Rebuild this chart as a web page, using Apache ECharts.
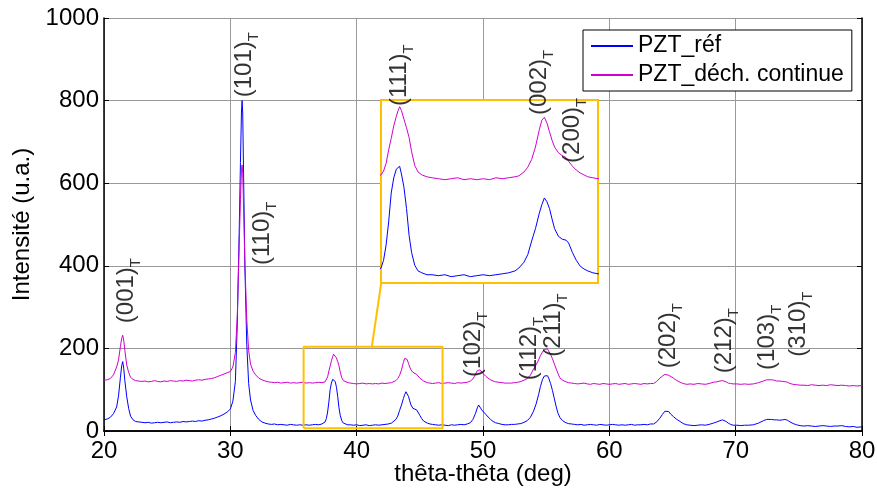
<!DOCTYPE html>
<html><head><meta charset="utf-8">
<script src="https://cdn.jsdelivr.net/npm/echarts@6/dist/echarts.min.js"></script>
<style>html,body{margin:0;padding:0;background:#fff}#c{width:877px;height:489px}</style>
</head><body><div id="c"></div>
<script>
// 2-theta positions (deg)
const twoTheta = [
 20,20.25,20.5,20.75,21,21.15,21.3,21.4,21.48,21.56,21.65,21.8,21.95,22.1,22.3,22.5,22.75,23,
 23.25,23.5,23.75,24,24.25,24.5,24.75,25,25.25,25.5,25.75,26,26.25,26.5,26.75,27,27.25,27.5,27.75,28,28.25,28.5,28.75,29,29.25,29.5,29.75,
 30,30.2,30.4,30.55,30.7,30.8,30.88,30.93,30.98,31.05,31.15,31.3,31.45,31.6,31.8,32,32.25,32.5,32.75,33,
 33.25,33.5,33.75,34,34.25,34.5,34.75,35,35.25,35.5,35.75,36,36.25,36.5,36.75,37,37.25,
 37.5,37.6,37.7,37.8,37.9,38,38.1,38.17,38.23,38.3,38.4,38.5,38.6,38.7,38.82,38.95,39.1,39.3,
 39.5,39.75,40,40.25,40.5,40.75,41,41.25,41.5,41.75,42,42.25,42.5,
 42.75,42.9,43.1,43.25,43.4,43.55,43.7,43.8,43.9,44,44.1,44.2,44.3,44.45,44.6,44.75,44.85,45,45.15,45.3,45.45,45.6,45.8,46,
 46.25,46.5,46.75,47,47.25,47.5,47.75,48,48.25,48.5,48.75,
 49,49.2,49.4,49.55,49.65,49.75,49.9,50.05,50.2,50.4,50.6,50.8,51,51.25,51.5,51.75,52,
 52.25,52.5,52.75,53,53.25,53.5,53.75,54,54.2,54.4,54.55,54.7,54.85,55,55.1,55.2,55.35,55.5,55.65,55.8,55.95,56.1,56.3,56.5,56.75,57,
 57.25,57.5,57.75,58,58.25,58.5,58.75,59,59.25,59.5,59.75,60,60.25,60.5,60.75,61,61.25,61.5,61.75,62,62.25,62.5,62.75,63,63.25,
 63.5,63.75,64,64.2,64.4,64.55,64.7,64.85,65.07,65.3,65.6,65.85,66.13,
 66.4,66.7,67,67.3,67.6,67.9,
 68.23,68.5,68.76,68.95,69.08,69.25,69.42,69.6,69.8,70.1,
 70.4,70.7,71,
 71.4,71.8,72.2,72.45,72.6,72.85,73.05,73.25,73.5,73.7,73.9,74.1,74.3,74.55,74.83,75.1,
 75.4,75.7,76,76.3,76.6,76.9,77.2,77.5,77.8,78.1,78.4,78.7,79,79.3,79.6,80
];
// PZT_réf intensities
const pztRef = [
 27,29,33,42,58,85,130,158,168,152,122,83,55,36,27,23,22,21,
 20,21,19,20,21,20,21,22,20,21,22,21,23,22,23,24,23,25,24,26,27,29,31,34,37,41,46,
 53,72,120,260,480,650,770,800,770,620,400,210,115,75,50,38,28,22,19,17,
 16,17,15,16,15,14,16,15,14,15,14,15,14,15,16,15,17,
 22,30,46,70,100,116,125,127,128,120,106,84,56,38,25,19,17,15,
 15,14,15,13,14,15,13,14,15,14,15,16,17,
 19,22,28,36,50,63,79,88,95,91,84,73,63,55,52,51,48,38,30,24,21,19,17,16,
 15,14,15,14,13,15,14,15,16,15,17,
 20,28,42,56,63,59,51,46,41,34,28,23,20,18,16,15,15,
 16,16,17,18,21,25,33,48,65,88,108,124,133,136,134,128,115,98,78,58,42,32,25,21,18,17,
 16,15,16,14,15,16,15,14,16,15,14,15,16,15,14,15,14,15,16,14,15,15,16,15,17,
 17,22,31,40,48,51,47,41,35,29,23,18,15,
 14,13,14,15,14,16,
 19,22,25,27,28,23,19,16,14,14,
 13,14,14,
 15,19,25,28,29,28,27,27,26,27,28,26,22,18,15,13,
 12,13,12,11,12,13,12,11,12,12,13,11,10,11,9,10
];
// PZT_déch. continue intensities
const pztDech = [
 123,124,127,136,155,172,205,224,232,220,195,160,142,130,125,122,121,120,
 121,119,120,122,120,119,121,120,122,121,120,122,121,123,122,121,123,124,123,125,126,127,129,132,135,138,141,
 144,155,190,280,450,560,630,644,625,540,410,270,195,162,145,136,128,124,121,119,
 118,117,118,116,117,118,116,117,116,117,118,116,117,116,117,118,117,
 119,123,131,145,157,170,180,186,190,186,177,168,158,143,129,122,119,117,
 116,115,114,115,116,114,115,114,115,114,116,115,116,
 117,118,122,127,135,148,166,176,179,173,164,155,148,142,139,137,133,128,124,121,119,117,116,115,
 116,117,115,116,117,116,115,117,116,117,118,
 121,126,137,146,150,148,143,138,133,128,124,121,119,118,117,116,116,
 116,117,118,120,123,127,135,150,160,172,183,191,197,200,199,195,185,175,162,150,138,128,123,120,117,116,
 115,114,115,116,114,113,115,114,113,115,114,113,114,115,113,114,115,113,114,115,114,113,115,114,115,
 115,120,128,133,137,138,135,132,128,123,118,115,113,
 114,113,115,114,113,115,
 118,119,121,122,122,119,116,115,114,114,
 113,114,113,
 114,117,121,124,125,124,123,121,121,120,119.5,118,115,113,112,111,
 111,110,112,111,110,111,110,112,111,110,111,110,109,110,109,110
];
const seriesNames = ['PZT_réf', 'PZT_déch. continue'];
const xTicks = {min: 20, max: 80, step: 10};
const yTicks = {min: 0, max: 1000, step: 200};
// peak annotations: label, 2θ of label, intensity at label start
const peakNames = ['(001)','(101)','(110)','(111)','(002)','(200)','(102)','(112)','(211)','(202)','(212)','(103)','(310)'];
const peakLabelX = [21.74, 31.08, 32.5, 43.4, 54.5, 57.1, 49.2, 53.7, 55.6, 64.65, 69.1, 72.5, 75.0];
const peakLabelY = [261, 808, 402, 787, 765, 649, 131, 123, 180, 152, 140, 148, 180];
// zoomed region (main axes) and inset range
const zoomX = [35.8, 46.8];
const zoomY = [6.5, 204];
const insetX = [37.5, 46.0];
const insetY = [6.4, 197];
const connector = [[41.2, 204], [41.95, 360]];

const zip = (xs, ys) => xs.map((x, i) => [x, ys[i]]);
const FONT = "'Liberation Sans', Arial, sans-serif";
const BLUE = '#0000ff', MAG = '#d000d0', ORANGE = '#FFC000';

const chart = echarts.init(document.getElementById('c'), null, {renderer: 'canvas'});
const tickStyle = {show: true, inside: true, length: 5, lineStyle: {color: '#000', width: 1}};
const lineAx = {show: true, lineStyle: {color: '#000', width: 1.5}};
chart.setOption({
  animation: false,
  backgroundColor: '#fff',
  textStyle: {fontFamily: FONT},
  grid: [
    {left: 104, top: 18, width: 758, height: 413, containLabel: false, outerBoundsMode: 'none'},
    {left: 381, top: 100, width: 217, height: 183, show: true, backgroundColor: '#fff',
     borderColor: ORANGE, borderWidth: 2, z: 3, outerBoundsMode: 'none'}
  ],
  legend: {
    data: seriesNames, orient: 'vertical', left: 583, top: 30,
    borderColor: '#000', borderWidth: 1, backgroundColor: '#fff',
    padding: [4, 8, 4, 8], itemGap: 5, itemWidth: 42, itemHeight: 2, icon: 'rect',
    textStyle: {fontSize: 23, color: '#000', fontFamily: FONT, lineHeight: 24}, z: 10
  },
  xAxis: [
    {gridIndex: 0, type: 'value', min: xTicks.min, max: xTicks.max, interval: xTicks.step, position: 'bottom',
     axisLine: lineAx, axisTick: tickStyle,
     axisLabel: {fontSize: 24, color: '#000', margin: 8, fontFamily: FONT, formatter: v => String(v)},
     splitLine: {show: true, lineStyle: {color: '#999', width: 1}},
     name: 'thêta-thêta (deg)', nameLocation: 'middle', nameGap: 31, nameMoveOverlap: false,
     nameTextStyle: {fontSize: 24, color: '#000', fontFamily: FONT, verticalAlign: 'top'}},
    {gridIndex: 0, type: 'value', min: xTicks.min, max: xTicks.max, interval: xTicks.step, position: 'top',
     axisLine: lineAx, axisTick: tickStyle, axisLabel: {show: false}, splitLine: {show: false}},
    {gridIndex: 1, type: 'value', min: insetX[0], max: insetX[1], show: false}
  ],
  yAxis: [
    {gridIndex: 0, type: 'value', min: yTicks.min, max: yTicks.max, interval: yTicks.step, position: 'left',
     axisLine: lineAx, axisTick: tickStyle,
     axisLabel: {fontSize: 24, color: '#000', margin: 5, fontFamily: FONT, formatter: v => String(v),
       verticalAlignMinLabel: 'middle', verticalAlignMaxLabel: 'middle'},
     splitLine: {show: true, lineStyle: {color: '#999', width: 1}},
     name: 'Intensité (u.a.)', nameLocation: 'middle', nameGap: 70, nameRotate: 90, nameMoveOverlap: false,
     nameTextStyle: {fontSize: 24, color: '#000', fontFamily: FONT}},
    {gridIndex: 0, type: 'value', min: yTicks.min, max: yTicks.max, interval: yTicks.step, position: 'right',
     axisLine: lineAx, axisTick: tickStyle, axisLabel: {show: false}, splitLine: {show: false}},
    {gridIndex: 1, type: 'value', min: insetY[0], max: insetY[1], show: false}
  ],
  series: [
    {name: seriesNames[0], type: 'line', xAxisIndex: 0, yAxisIndex: 0, data: zip(twoTheta, pztRef),
     showSymbol: false, lineStyle: {color: BLUE, width: 1}, itemStyle: {color: BLUE}, z: 4},
    {name: seriesNames[1], type: 'line', xAxisIndex: 0, yAxisIndex: 0, data: zip(twoTheta, pztDech),
     showSymbol: false, lineStyle: {color: MAG, width: 1}, itemStyle: {color: MAG}, z: 4},
    {name: 'zoomBox', type: 'line', xAxisIndex: 0, yAxisIndex: 0, showSymbol: false, z: 5,
     data: [[zoomX[0], zoomY[0]], [zoomX[1], zoomY[0]], [zoomX[1], zoomY[1]], [zoomX[0], zoomY[1]], [zoomX[0], zoomY[0]]],
     lineStyle: {color: ORANGE, width: 2}},
    {name: 'connector', type: 'line', xAxisIndex: 0, yAxisIndex: 0, showSymbol: false, z: 5,
     data: connector, lineStyle: {color: ORANGE, width: 2}},
    {name: 'insetRef', type: 'line', xAxisIndex: 2, yAxisIndex: 2, data: zip(twoTheta, pztRef),
     showSymbol: false, lineStyle: {color: BLUE, width: 1}, z: 6, clip: true},
    {name: 'insetDech', type: 'line', xAxisIndex: 2, yAxisIndex: 2, data: zip(twoTheta, pztDech),
     showSymbol: false, lineStyle: {color: MAG, width: 1}, z: 6, clip: true},
    {name: 'peaks', type: 'scatter', xAxisIndex: 0, yAxisIndex: 0, symbolSize: 0, z: 8,
     data: peakNames.map((n, i) => ({value: [peakLabelX[i], peakLabelY[i]], name: n})),
     label: {show: true, position: 'inside', rotate: 90, align: 'left', verticalAlign: 'middle',
       formatter: p => '{m|' + p.name + '}{s|T}',
       rich: {
         m: {fontSize: 24, lineHeight: 24, color: '#000', fontFamily: FONT, verticalAlign: 'middle'},
         s: {fontSize: 15, lineHeight: 34, color: '#000', fontFamily: FONT, verticalAlign: 'bottom'}
       }}}
  ]
});
</script></body></html>
